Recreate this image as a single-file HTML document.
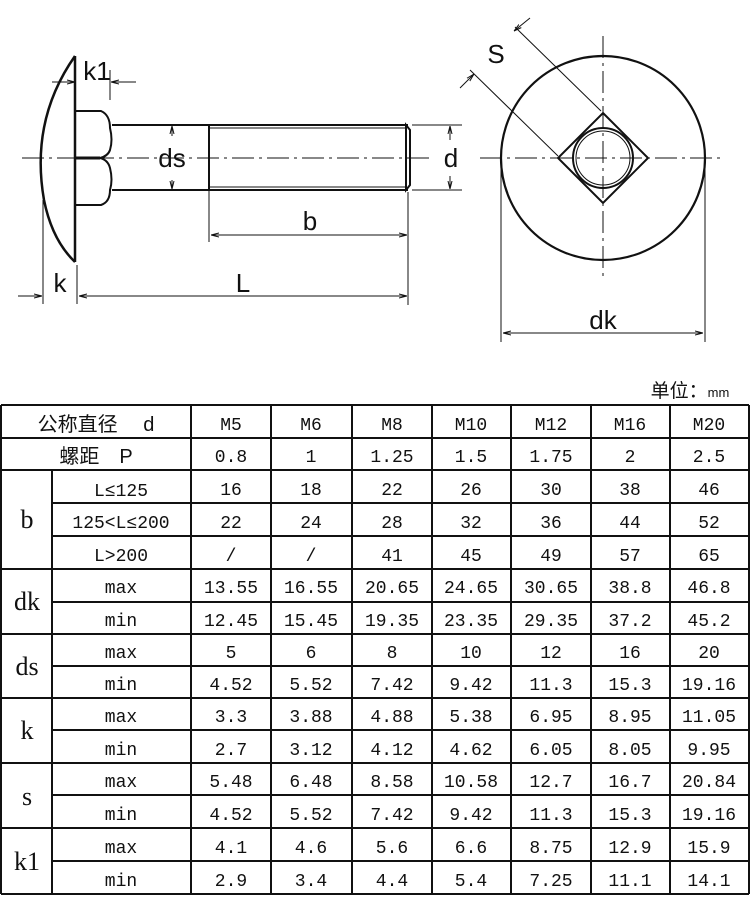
<!DOCTYPE html>
<html><head><meta charset="utf-8"><style>
html,body{margin:0;padding:0;background:#fff;}
svg{display:block}
.t{font-family:"Liberation Mono","Noto Sans CJK SC",monospace;font-size:18px;fill:#111;text-anchor:middle;}
.c{font-family:"Liberation Sans","Noto Sans CJK SC",sans-serif;font-size:20px;fill:#111;text-anchor:middle;}
.l{font-family:"Liberation Serif","Noto Serif CJK SC",serif;font-size:26px;fill:#111;text-anchor:middle;}
.d{font-family:"Liberation Sans",sans-serif;font-size:26px;fill:#111;text-anchor:middle;}
</style></head><body>
<svg width="750" height="900" viewBox="0 0 750 900" xmlns="http://www.w3.org/2000/svg">
<defs>
<marker id="a" markerWidth="8" markerHeight="6" refX="8" refY="3" orient="auto" markerUnits="userSpaceOnUse"><path d="M0,1 L8,3 L0,5" fill="none" stroke="#111" stroke-width="1"/></marker>
</defs>
<g stroke="#111" fill="none">
<!-- bolt side view -->
<path d="M75,56 Q30,120 44,200 Q52,240 75,262" stroke-width="2.5"/>
<line x1="75" y1="56" x2="75" y2="262" stroke-width="2.5"/>
<path d="M75,111 L101,111 Q110,115 110,128 Q113,140 110,150 Q108,156 100,158 Q108,160 110,168 Q113,180 110,190 Q110,202 101,205 L75,205" stroke-width="2"/>
<line x1="75" y1="158" x2="100" y2="158" stroke-width="3"/>
<line x1="112" y1="125" x2="408" y2="125" stroke-width="2"/>
<line x1="112" y1="190" x2="408" y2="190" stroke-width="2"/>
<line x1="210" y1="128" x2="406" y2="128" stroke-width="1"/>
<line x1="210" y1="187" x2="406" y2="187" stroke-width="1"/>
<line x1="209" y1="125" x2="209" y2="190" stroke-width="2"/>
<path d="M406,125 L410,130 L410,185 L406,190 Z" stroke-width="2"/>
<line x1="22" y1="158" x2="430" y2="158" stroke-width="1" stroke-dasharray="22,5,3,5"/>
<!-- k1 -->
<line x1="110" y1="70" x2="110" y2="100" stroke-width="1"/>
<line x1="52" y1="82" x2="75" y2="82" stroke-width="1" marker-end="url(#a)"/>
<line x1="136" y1="82" x2="111" y2="82" stroke-width="1" marker-end="url(#a)"/>
<!-- ds -->
<line x1="172" y1="136" x2="172" y2="126" stroke-width="1" marker-end="url(#a)"/>
<line x1="172" y1="180" x2="172" y2="189" stroke-width="1" marker-end="url(#a)"/>
<!-- d -->
<line x1="412" y1="125" x2="462" y2="125" stroke-width="1"/>
<line x1="412" y1="190" x2="462" y2="190" stroke-width="1"/>
<line x1="450" y1="140" x2="450" y2="126" stroke-width="1" marker-end="url(#a)"/>
<line x1="450" y1="176" x2="450" y2="189" stroke-width="1" marker-end="url(#a)"/>
<!-- b -->
<line x1="209" y1="160" x2="209" y2="242" stroke-width="1"/>
<line x1="408" y1="192" x2="408" y2="305" stroke-width="1"/>
<line x1="300" y1="235" x2="211" y2="235" stroke-width="1" marker-end="url(#a)"/>
<line x1="300" y1="235" x2="407" y2="235" stroke-width="1" marker-end="url(#a)"/>
<!-- L, k -->
<line x1="43" y1="200" x2="43" y2="304" stroke-width="1"/>
<line x1="77" y1="265" x2="77" y2="304" stroke-width="1"/>
<line x1="18" y1="296" x2="42" y2="296" stroke-width="1" marker-end="url(#a)"/>
<line x1="240" y1="296" x2="79" y2="296" stroke-width="1" marker-end="url(#a)"/>
<line x1="240" y1="296" x2="407" y2="296" stroke-width="1" marker-end="url(#a)"/>
<!-- top view -->
<circle cx="603" cy="158" r="102" stroke-width="2.2"/>
<path d="M603,113 L648,158 L603,203 L558,158 Z" stroke-width="2"/>
<circle cx="603" cy="158" r="30" stroke-width="2"/>
<circle cx="603" cy="158" r="27" stroke-width="1"/>
<line x1="480" y1="158" x2="725" y2="158" stroke-width="1" stroke-dasharray="22,5,3,5"/>
<line x1="603" y1="36" x2="603" y2="280" stroke-width="1" stroke-dasharray="22,5,3,5"/>
<line x1="558" y1="156" x2="470" y2="70" stroke-width="1"/>
<line x1="601" y1="111" x2="515" y2="27" stroke-width="1"/>
<line x1="460" y1="88" x2="474" y2="74" stroke-width="1" marker-end="url(#a)"/>
<line x1="530" y1="18" x2="514" y2="31" stroke-width="1" marker-end="url(#a)"/>
<line x1="501" y1="160" x2="501" y2="342" stroke-width="1"/>
<line x1="705" y1="160" x2="705" y2="342" stroke-width="1"/>
<line x1="600" y1="333" x2="503" y2="333" stroke-width="1" marker-end="url(#a)"/>
<line x1="600" y1="333" x2="703" y2="333" stroke-width="1" marker-end="url(#a)"/>
</g>
<text class="d" x="97" y="80">k1</text>
<text class="d" x="172" y="167">ds</text>
<text class="d" x="451" y="167">d</text>
<text class="d" x="310" y="230">b</text>
<text class="d" x="60" y="292">k</text>
<text class="d" x="243" y="292">L</text>
<text class="d" x="496" y="63">S</text>
<text class="d" x="603" y="329">dk</text>

<!-- table -->
<text x="690" y="397" style="font-family:'Liberation Sans','Noto Sans CJK SC',sans-serif;font-size:19px;fill:#111;text-anchor:middle">单位：<tspan style="font-size:13px">mm</tspan></text>
<g stroke="#111" stroke-width="2">
<line x1="1" y1="405" x2="749" y2="405"/>
<line x1="1" y1="438" x2="749" y2="438"/>
<line x1="1" y1="470" x2="749" y2="470"/>
<line x1="52" y1="503" x2="749" y2="503"/>
<line x1="52" y1="536" x2="749" y2="536"/>
<line x1="1" y1="569" x2="749" y2="569"/>
<line x1="52" y1="602" x2="749" y2="602"/>
<line x1="1" y1="634" x2="749" y2="634"/>
<line x1="52" y1="666" x2="749" y2="666"/>
<line x1="1" y1="698" x2="749" y2="698"/>
<line x1="52" y1="730" x2="749" y2="730"/>
<line x1="1" y1="763" x2="749" y2="763"/>
<line x1="52" y1="795" x2="749" y2="795"/>
<line x1="1" y1="828" x2="749" y2="828"/>
<line x1="52" y1="861" x2="749" y2="861"/>
<line x1="1" y1="894" x2="749" y2="894"/>
<line x1="1" y1="405" x2="1" y2="894"/>
<line x1="52" y1="470" x2="52" y2="894"/>
<line x1="191" y1="405" x2="191" y2="894"/>
<line x1="271" y1="405" x2="271" y2="894"/>
<line x1="352" y1="405" x2="352" y2="894"/>
<line x1="432" y1="405" x2="432" y2="894"/>
<line x1="511" y1="405" x2="511" y2="894"/>
<line x1="591" y1="405" x2="591" y2="894"/>
<line x1="670" y1="405" x2="670" y2="894"/>
<line x1="749" y1="405" x2="749" y2="894"/>
</g>
<text class="c" x="96" y="431">公称直径　 d</text>
<text class="c" x="96" y="463">螺距　P</text>
<text class="l" x="27" y="528">b</text>
<text class="l" x="27" y="610">dk</text>
<text class="l" x="27" y="675">ds</text>
<text class="l" x="27" y="739">k</text>
<text class="l" x="27" y="805">s</text>
<text class="l" x="27" y="870">k1</text>
<g class="t">
<text x="121" y="496">L≤125</text>
<text x="121" y="528">125&lt;L≤200</text>
<text x="121" y="561">L&gt;200</text>
<text x="121" y="593">max</text><text x="121" y="626">min</text>
<text x="121" y="658">max</text><text x="121" y="690">min</text>
<text x="121" y="722">max</text><text x="121" y="755">min</text>
<text x="121" y="787">max</text><text x="121" y="820">min</text>
<text x="121" y="853">max</text><text x="121" y="886">min</text>
</g>
<g class="t">
<text x="231" y="430">M5</text><text x="311" y="430">M6</text><text x="392" y="430">M8</text><text x="471" y="430">M10</text><text x="551" y="430">M12</text><text x="630" y="430">M16</text><text x="709" y="430">M20</text>
<text x="231" y="462">0.8</text><text x="311" y="462">1</text><text x="392" y="462">1.25</text><text x="471" y="462">1.5</text><text x="551" y="462">1.75</text><text x="630" y="462">2</text><text x="709" y="462">2.5</text>
<text x="231" y="495">16</text><text x="311" y="495">18</text><text x="392" y="495">22</text><text x="471" y="495">26</text><text x="551" y="495">30</text><text x="630" y="495">38</text><text x="709" y="495">46</text>
<text x="231" y="528">22</text><text x="311" y="528">24</text><text x="392" y="528">28</text><text x="471" y="528">32</text><text x="551" y="528">36</text><text x="630" y="528">44</text><text x="709" y="528">52</text>
<text x="231" y="561">/</text><text x="311" y="561">/</text><text x="392" y="561">41</text><text x="471" y="561">45</text><text x="551" y="561">49</text><text x="630" y="561">57</text><text x="709" y="561">65</text>
<text x="231" y="593">13.55</text><text x="311" y="593">16.55</text><text x="392" y="593">20.65</text><text x="471" y="593">24.65</text><text x="551" y="593">30.65</text><text x="630" y="593">38.8</text><text x="709" y="593">46.8</text>
<text x="231" y="626">12.45</text><text x="311" y="626">15.45</text><text x="392" y="626">19.35</text><text x="471" y="626">23.35</text><text x="551" y="626">29.35</text><text x="630" y="626">37.2</text><text x="709" y="626">45.2</text>
<text x="231" y="658">5</text><text x="311" y="658">6</text><text x="392" y="658">8</text><text x="471" y="658">10</text><text x="551" y="658">12</text><text x="630" y="658">16</text><text x="709" y="658">20</text>
<text x="231" y="690">4.52</text><text x="311" y="690">5.52</text><text x="392" y="690">7.42</text><text x="471" y="690">9.42</text><text x="551" y="690">11.3</text><text x="630" y="690">15.3</text><text x="709" y="690">19.16</text>
<text x="231" y="722">3.3</text><text x="311" y="722">3.88</text><text x="392" y="722">4.88</text><text x="471" y="722">5.38</text><text x="551" y="722">6.95</text><text x="630" y="722">8.95</text><text x="709" y="722">11.05</text>
<text x="231" y="755">2.7</text><text x="311" y="755">3.12</text><text x="392" y="755">4.12</text><text x="471" y="755">4.62</text><text x="551" y="755">6.05</text><text x="630" y="755">8.05</text><text x="709" y="755">9.95</text>
<text x="231" y="787">5.48</text><text x="311" y="787">6.48</text><text x="392" y="787">8.58</text><text x="471" y="787">10.58</text><text x="551" y="787">12.7</text><text x="630" y="787">16.7</text><text x="709" y="787">20.84</text>
<text x="231" y="820">4.52</text><text x="311" y="820">5.52</text><text x="392" y="820">7.42</text><text x="471" y="820">9.42</text><text x="551" y="820">11.3</text><text x="630" y="820">15.3</text><text x="709" y="820">19.16</text>
<text x="231" y="853">4.1</text><text x="311" y="853">4.6</text><text x="392" y="853">5.6</text><text x="471" y="853">6.6</text><text x="551" y="853">8.75</text><text x="630" y="853">12.9</text><text x="709" y="853">15.9</text>
<text x="231" y="886">2.9</text><text x="311" y="886">3.4</text><text x="392" y="886">4.4</text><text x="471" y="886">5.4</text><text x="551" y="886">7.25</text><text x="630" y="886">11.1</text><text x="709" y="886">14.1</text>
</g>
</svg>
</body></html>
